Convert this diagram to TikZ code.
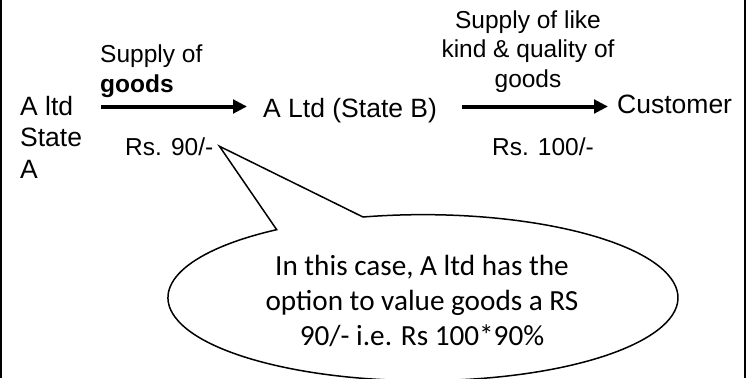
\documentclass[tikz,border=0pt]{standalone}
\usepackage{fontspec}
\setmainfont{Liberation Sans}
\newfontfamily\calloutfont{Carlito}
\usetikzlibrary{arrows.meta,calc}

\begin{document}
\begin{tikzpicture}[x=1bp,y=1bp,
  big/.style={inner sep=0pt, font=\fontsize{26.5bp}{31.5bp}\selectfont},
  lbl/.style={inner sep=0pt, font=\fontsize{24.5bp}{29.5bp}\selectfont},
  flow/.style={line width=4bp, -{Triangle[length=14bp,width=13.5bp]}},
  bubble/.style={line width=1.5bp, fill=white, line join=miter},
  note/.style={inner sep=0pt, align=center,
    font=\calloutfont\fontsize{29.2bp}{35bp}\selectfont},
  rule/.style={line width=2bp}]
\useasboundingbox (0,0) rectangle (747,378);
\clip (0,0) rectangle (747,378);

% side rules of the frame
\coordinate (frameBL) at (1,0);
\coordinate (frameTL) at (1,378);
\coordinate (frameBR) at (744.5,0);
\coordinate (frameTR) at (744.5,378);
\draw[rule] (frameBL) -- (frameTL);
\draw[rule] (frameBR) -- (frameTR);

% parties
\node[big, align=left, anchor=base west] (altd) at (20,200) {A ltd\\State\\A};
\node[big, anchor=base west] (altdb) at (263,260.5) {A Ltd (State B)};
\node[big, anchor=base west] (cust) at (617,264.5) {Customer};

% labels on the flows
\node[lbl, align=left, anchor=base west] (supA) at (100,286) {Supply of\\\textbf{goods}};
\node[lbl, align=center, anchor=base] (supB) at (528,291) {Supply of like\\kind \& quality of\\goods};
\node[lbl, anchor=base west] (rs90) at (125,223) {Rs. 90/-};
\node[lbl, anchor=base] (rs100) at (543,223) {Rs. 100/-};

% flows
\coordinate (flowY) at ([yshift=11bp]altdb.base);
\draw[flow] ([xshift=19bp]altd.east |- flowY) -- ([xshift=-16bp]altdb.west |- flowY);
\draw[flow] ([xshift=25bp]altdb.east |- flowY) -- ([xshift=-9bp]cust.west |- flowY);

% callout bubble pointing at the price
\coordinate (tip) at ([xshift=6bp]rs90.east);
\coordinate (bubC) at (423,80);
\draw[bubble] (tip) -- ($(bubC)+(-60,81)$) arc[start angle=103.6, end angle=-235, x radius=255bp, y radius=83bp] -- cycle;
\node[note, anchor=base] (txt) at (422,33) {In this case, A ltd has the\\option to value goods a RS\\90/- i.e. Rs 100*90\%};
\end{tikzpicture}
\end{document}
